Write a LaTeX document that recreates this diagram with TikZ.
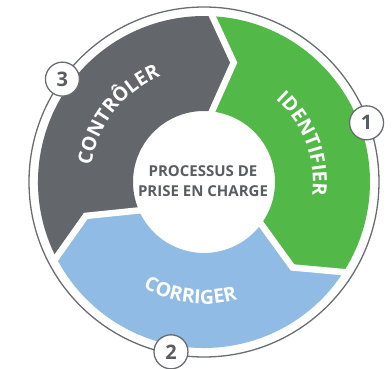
\documentclass[tikz,border=0pt]{standalone}
\usepackage{fontspec}
\setmainfont{Open Sans}
\usetikzlibrary{decorations.text}

\definecolor{idgreen}{RGB}{82,184,72}
\definecolor{ctgray}{RGB}{99,103,107}
\definecolor{crblue}{RGB}{143,187,228}
\definecolor{rimgray}{RGB}{105,108,112}
\definecolor{txtgray}{RGB}{88,93,98}
\newcommand{\arcfont}{\bfseries\fontsize{19.5}{19.5}\selectfont}

\tikzset{
  badge/.style={circle, draw=rimgray, line width=1.3pt, fill=white, minimum size=34pt,
    inner sep=0pt, text=txtgray, font=\bfseries\fontsize{20}{20}\selectfont},
  gap/.style={white, line width=6.5pt, line join=miter},
  arclabel/.style={decorate, decoration={text along path, text align=center,
    text color=white, text={|\arcfont|#1}}}
}

\begin{document}
\begin{tikzpicture}[x=1pt,y=1pt]
        \useasboundingbox (-204,-187) rectangle (188,182);

        \draw [rimgray, line width=1.3pt] (0,0) circle (175);

        \fill [idgreen] (88:166) arc [start angle=88, end angle=-32, radius=166]
          -- (-44:123) -- (-35:71) arc [start angle=-35, end angle=85, radius=71]
          -- (76:123) -- cycle;
        \fill [crblue] (328:166) arc [start angle=328, end angle=208, radius=166]
          -- (196:123) -- (205:71) arc [start angle=205, end angle=325, radius=71]
          -- (316:123) -- cycle;
        \fill [ctgray] (208:166) arc [start angle=208, end angle=88, radius=166]
          -- (76:123) -- (85:71) arc [start angle=85, end angle=205, radius=71]
          -- (196:123) -- cycle;

        \foreach \a in {88,-32,208}
          \draw [gap] (\a:171) -- (\a-12:123) -- (\a-3:66);

        \path [arclabel=CONTRÔLER] (184:114) arc [start angle=184, end angle=100, radius=114];
        \path [arclabel=IDENTIFIER] (62:109) arc [start angle=62, end angle=-20, radius=109];
        \path [arclabel=CORRIGER] (222:122) arc [start angle=222, end angle=304, radius=122];

        \node [align=center, text=txtgray, font=\bfseries\fontsize{15}{20}\selectfont]
          (centre) at (-1,1) {PROCESSUS DE\\PRISE EN CHARGE};

        \node [badge] (one) at (20:173) {1};
        \node [badge] (two) at (259:173) {2};
        \node [badge] (three) at (144:175) {3};
      \end{tikzpicture}
\end{document}
